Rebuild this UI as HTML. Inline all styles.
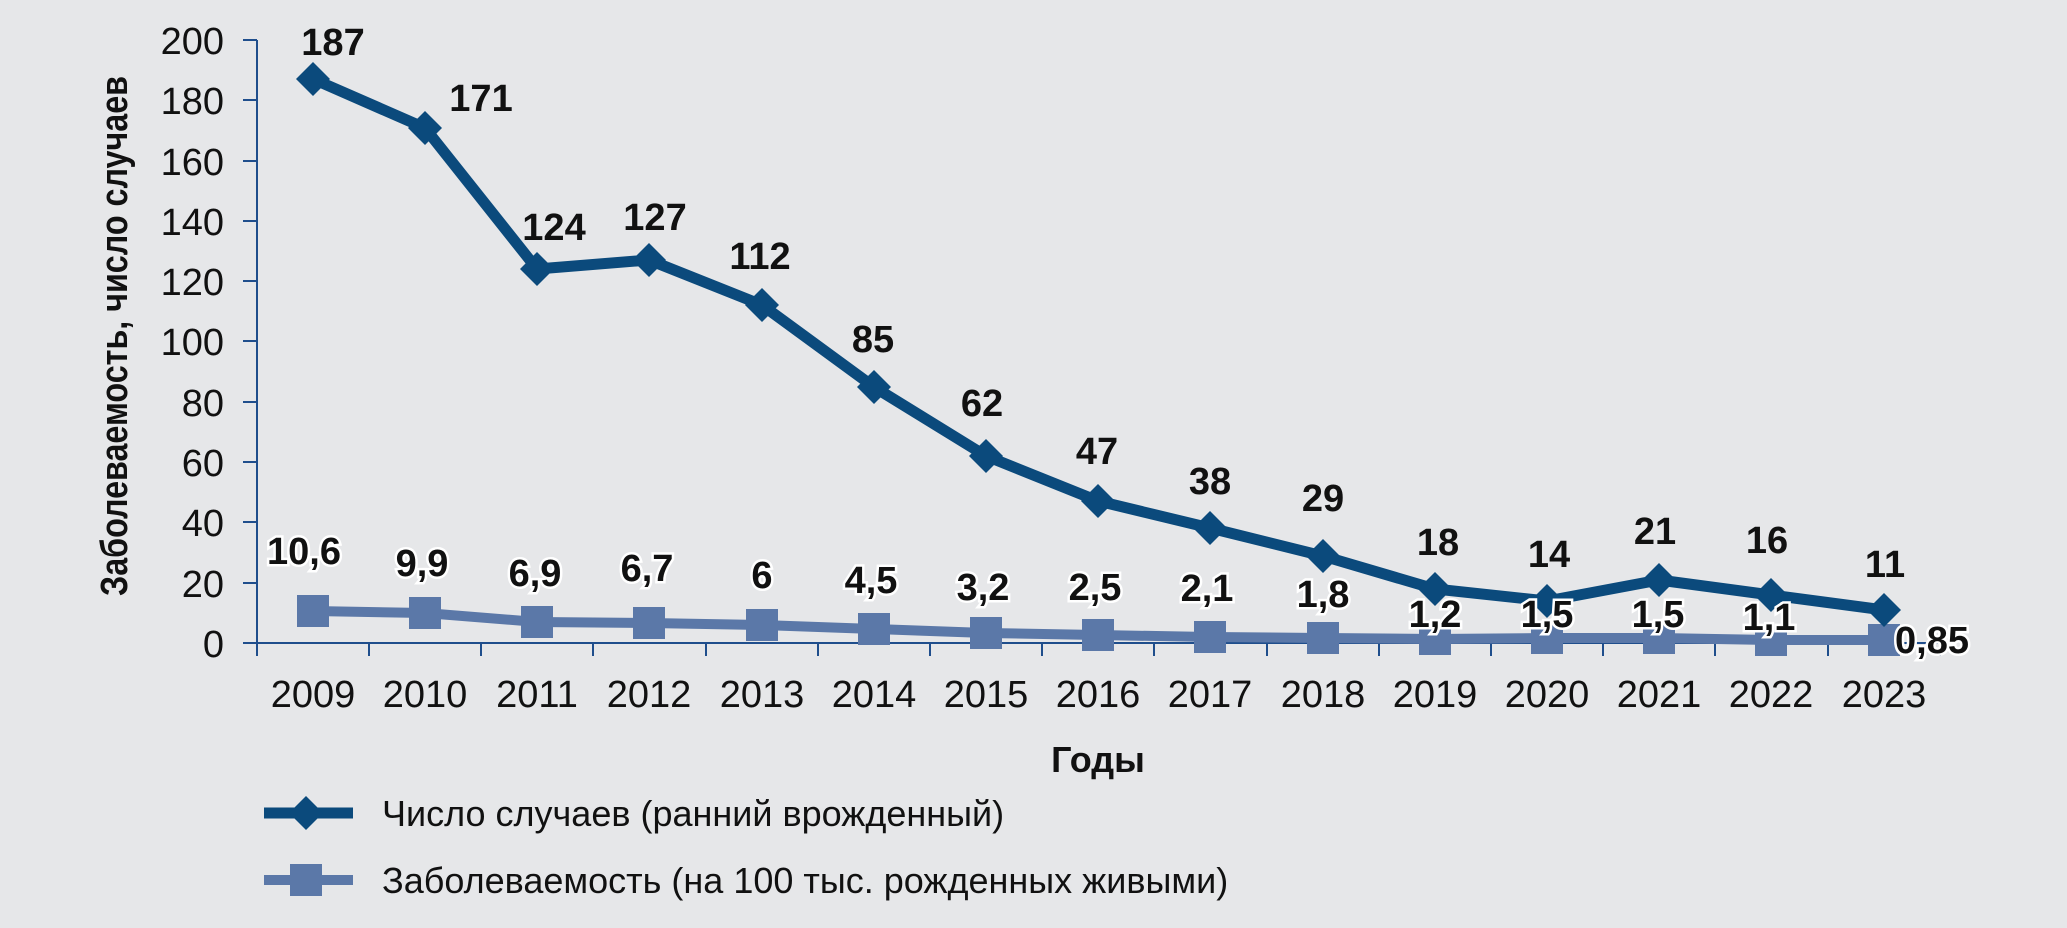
<!DOCTYPE html>
<html><head><meta charset="utf-8"><style>
html,body{margin:0;padding:0;background:#e6e7e9;}
svg{display:block;}
text{font-family:"Liberation Sans Narrow","Liberation Sans",sans-serif;fill:#111;}
.b{font-weight:bold;font-size:38px;}
.o{stroke:#fff;stroke-width:5px;paint-order:stroke;}
.t{font-size:38px;}
</style></head><body>
<svg width="2067" height="928" viewBox="0 0 2067 928" xmlns="http://www.w3.org/2000/svg">
<rect width="2067" height="928" fill="#e6e7e9"/>
<g stroke="#1f4e8c" stroke-width="2">
<line x1="257" y1="40" x2="257" y2="656"/>
<line x1="243" y1="643" x2="1940" y2="643"/>
<line x1="243" y1="40" x2="257" y2="40"/><line x1="243" y1="100" x2="257" y2="100"/>
<line x1="243" y1="161" x2="257" y2="161"/><line x1="243" y1="221" x2="257" y2="221"/>
<line x1="243" y1="281" x2="257" y2="281"/><line x1="243" y1="341" x2="257" y2="341"/>
<line x1="243" y1="402" x2="257" y2="402"/><line x1="243" y1="462" x2="257" y2="462"/>
<line x1="243" y1="522" x2="257" y2="522"/><line x1="243" y1="583" x2="257" y2="583"/>
<line x1="369" y1="643" x2="369" y2="656"/><line x1="481" y1="643" x2="481" y2="656"/>
<line x1="593" y1="643" x2="593" y2="656"/><line x1="706" y1="643" x2="706" y2="656"/>
<line x1="818" y1="643" x2="818" y2="656"/><line x1="930" y1="643" x2="930" y2="656"/>
<line x1="1042" y1="643" x2="1042" y2="656"/><line x1="1154" y1="643" x2="1154" y2="656"/>
<line x1="1267" y1="643" x2="1267" y2="656"/><line x1="1379" y1="643" x2="1379" y2="656"/>
<line x1="1491" y1="643" x2="1491" y2="656"/><line x1="1603" y1="643" x2="1603" y2="656"/>
<line x1="1715" y1="643" x2="1715" y2="656"/><line x1="1828" y1="643" x2="1828" y2="656"/>
<line x1="1940" y1="643" x2="1940" y2="656"/>
</g>
<g class="t" text-anchor="end">
<text x="224" y="54">200</text><text x="224" y="114">180</text><text x="224" y="175">160</text>
<text x="224" y="235">140</text><text x="224" y="295">120</text><text x="224" y="355">100</text>
<text x="224" y="416">80</text><text x="224" y="476">60</text><text x="224" y="536">40</text>
<text x="224" y="597">20</text><text x="224" y="657">0</text>
</g>
<text transform="translate(127,336) rotate(-90)" x="-260" y="0" textLength="520" lengthAdjust="spacingAndGlyphs" style="font-weight:bold;font-size:38px;">Заболеваемость, число случаев</text>
<g class="t" text-anchor="middle">
<text x="313" y="707">2009</text><text x="425" y="707">2010</text><text x="537" y="707">2011</text>
<text x="649" y="707">2012</text><text x="762" y="707">2013</text><text x="874" y="707">2014</text>
<text x="986" y="707">2015</text><text x="1098" y="707">2016</text><text x="1210" y="707">2017</text>
<text x="1323" y="707">2018</text><text x="1435" y="707">2019</text><text x="1547" y="707">2020</text>
<text x="1659" y="707">2021</text><text x="1771" y="707">2022</text><text x="1884" y="707">2023</text>
</g>
<text x="1098" y="772" text-anchor="middle" style="font-weight:bold;font-size:36px;">Годы</text>
<polyline fill="none" stroke="#5b78a8" stroke-width="10" points="313,611 425,613 537,622 649,623 762,625 874,629 986,633 1098,635 1210,637 1323,638 1435,639 1547,638 1659,638 1771,640 1884,640"/>
<g fill="#5b78a8">
<rect x="297" y="595" width="32" height="32"/><rect x="409" y="597" width="32" height="32"/>
<rect x="521" y="606" width="32" height="32"/><rect x="633" y="607" width="32" height="32"/>
<rect x="746" y="609" width="32" height="32"/><rect x="858" y="613" width="32" height="32"/>
<rect x="970" y="617" width="32" height="32"/><rect x="1082" y="619" width="32" height="32"/>
<rect x="1194" y="621" width="32" height="32"/><rect x="1307" y="622" width="32" height="32"/>
<rect x="1419" y="623" width="32" height="32"/><rect x="1531" y="622" width="32" height="32"/>
<rect x="1643" y="622" width="32" height="32"/><rect x="1755" y="624" width="32" height="32"/>
<rect x="1868" y="624" width="32" height="32"/>
</g>
<polyline fill="none" stroke="#0b4a7c" stroke-width="11" points="313,79 425,128 537,269 649,260 762,305 874,387 986,456 1098,501 1210,528 1323,556 1435,589 1547,601 1659,580 1771,595 1884,610"/>
<g fill="#0b4a7c">
<path d="M313,62 l17,17 l-17,17 l-17,-17z"/><path d="M425,111 l17,17 l-17,17 l-17,-17z"/>
<path d="M537,252 l17,17 l-17,17 l-17,-17z"/><path d="M649,243 l17,17 l-17,17 l-17,-17z"/>
<path d="M762,288 l17,17 l-17,17 l-17,-17z"/><path d="M874,370 l17,17 l-17,17 l-17,-17z"/>
<path d="M986,439 l17,17 l-17,17 l-17,-17z"/><path d="M1098,484 l17,17 l-17,17 l-17,-17z"/>
<path d="M1210,511 l17,17 l-17,17 l-17,-17z"/><path d="M1323,539 l17,17 l-17,17 l-17,-17z"/>
<path d="M1435,572 l17,17 l-17,17 l-17,-17z"/><path d="M1547,584 l17,17 l-17,17 l-17,-17z"/>
<path d="M1659,563 l17,17 l-17,17 l-17,-17z"/><path d="M1771,578 l17,17 l-17,17 l-17,-17z"/>
<path d="M1884,593 l17,17 l-17,17 l-17,-17z"/>
</g>
<g class="b" text-anchor="middle">
<text x="333" y="55">187</text><text x="481" y="111">171</text><text x="554" y="240">124</text>
<text x="655" y="230">127</text><text x="760" y="269">112</text><text x="873" y="352">85</text>
<text x="982" y="416">62</text><text x="1097" y="464">47</text><text x="1210" y="494">38</text>
<text x="1323" y="511">29</text><text x="1438" y="555">18</text><text x="1549" y="567">14</text>
<text x="1655" y="544">21</text><text x="1767" y="553">16</text><text x="1885" y="577">11</text>
</g>
<g class="b o" text-anchor="middle">
<text x="304" y="564">10,6</text><text x="422" y="576">9,9</text><text x="535" y="586">6,9</text>
<text x="647" y="581">6,7</text><text x="762" y="588">6</text><text x="871" y="593">4,5</text>
<text x="983" y="600">3,2</text><text x="1095" y="600">2,5</text><text x="1207" y="601">2,1</text>
<text x="1323" y="607">1,8</text><text x="1435" y="627">1,2</text><text x="1547" y="627">1,5</text>
<text x="1658" y="627">1,5</text><text x="1769" y="630">1,1</text><text x="1932" y="653">0,85</text>
</g>
<line x1="264" y1="813" x2="353" y2="813" stroke="#0b4a7c" stroke-width="11"/>
<path d="M306,796 l17,17 l-17,17 l-17,-17z" fill="#0b4a7c"/>
<text x="382" y="826" class="t" style="font-size:36px;">Число случаев (ранний врожденный)</text>
<line x1="264" y1="880" x2="353" y2="880" stroke="#5b78a8" stroke-width="10"/>
<rect x="290" y="864" width="32" height="32" fill="#5b78a8"/>
<text x="382" y="893" class="t" style="font-size:36px;">Заболеваемость (на 100 тыс. рожденных живыми)</text>
</svg>
</body></html>
